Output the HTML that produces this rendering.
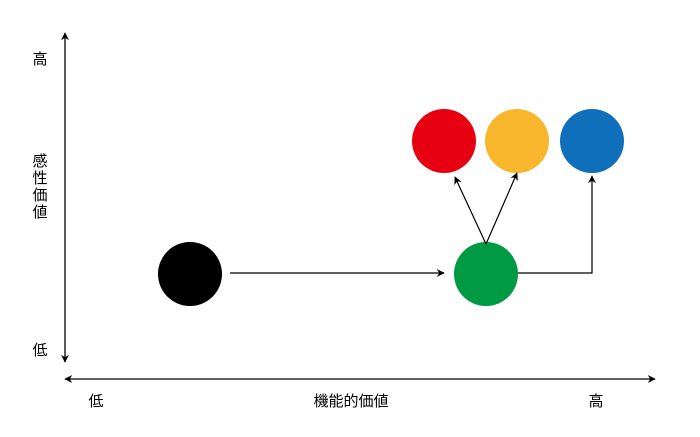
<!DOCTYPE html>
<html><head><meta charset="utf-8"><style>
html,body{margin:0;padding:0;background:#fff;}
svg{display:block;}
text{font-family:"Liberation Sans","Noto Sans CJK JP",sans-serif;font-size:14px;fill:#000;}
</style></head><body>
<svg width="700" height="437" viewBox="0 0 700 437" xmlns="http://www.w3.org/2000/svg">
<defs>
<marker id="a" viewBox="0 0 10 10" refX="9" refY="5" markerWidth="8" markerHeight="8" orient="auto-start-reverse" markerUnits="userSpaceOnUse">
<path d="M0,0 L10,5 L0,10 L3,5 z" fill="#000"/>
</marker>
</defs>
<line x1="65" y1="33" x2="65" y2="362" stroke="#000" stroke-width="1.3" marker-start="url(#a)" marker-end="url(#a)"/>
<line x1="65" y1="379" x2="655" y2="379" stroke="#000" stroke-width="1.3" marker-start="url(#a)" marker-end="url(#a)"/>
<text x="40" y="64" text-anchor="middle" style="font-size:15px">高</text>
<text x="40" y="166" text-anchor="middle" style="font-size:15px">感</text>
<text x="40" y="183" text-anchor="middle" style="font-size:15px">性</text>
<text x="40" y="200" text-anchor="middle" style="font-size:15px">価</text>
<text x="40" y="217" text-anchor="middle" style="font-size:15px">値</text>
<text x="40" y="355" text-anchor="middle" style="font-size:15px">低</text>
<text x="96" y="406" text-anchor="middle" style="font-size:15px">低</text>
<text x="351" y="406" text-anchor="middle" style="font-size:15px">機能的価値</text>
<text x="596" y="406" text-anchor="middle" style="font-size:15px">高</text>
<circle cx="190" cy="274" r="32" fill="#000"/>
<circle cx="486" cy="274" r="32" fill="#009944"/>
<circle cx="444" cy="141" r="32" fill="#e60012"/>
<circle cx="517" cy="141" r="32" fill="#f8b62d"/>
<circle cx="592" cy="141" r="32" fill="#0f6fba"/>
<line x1="230" y1="273" x2="444" y2="273" stroke="#000" stroke-width="1.2" marker-end="url(#a)"/>
<line x1="486" y1="244" x2="455" y2="177" stroke="#000" stroke-width="1.2" marker-end="url(#a)"/>
<line x1="486" y1="244" x2="517" y2="173" stroke="#000" stroke-width="1.2" marker-end="url(#a)"/>
<polyline points="518,273 592,273 592,176" fill="none" stroke="#000" stroke-width="1.2" marker-end="url(#a)"/>
</svg>
</body></html>
